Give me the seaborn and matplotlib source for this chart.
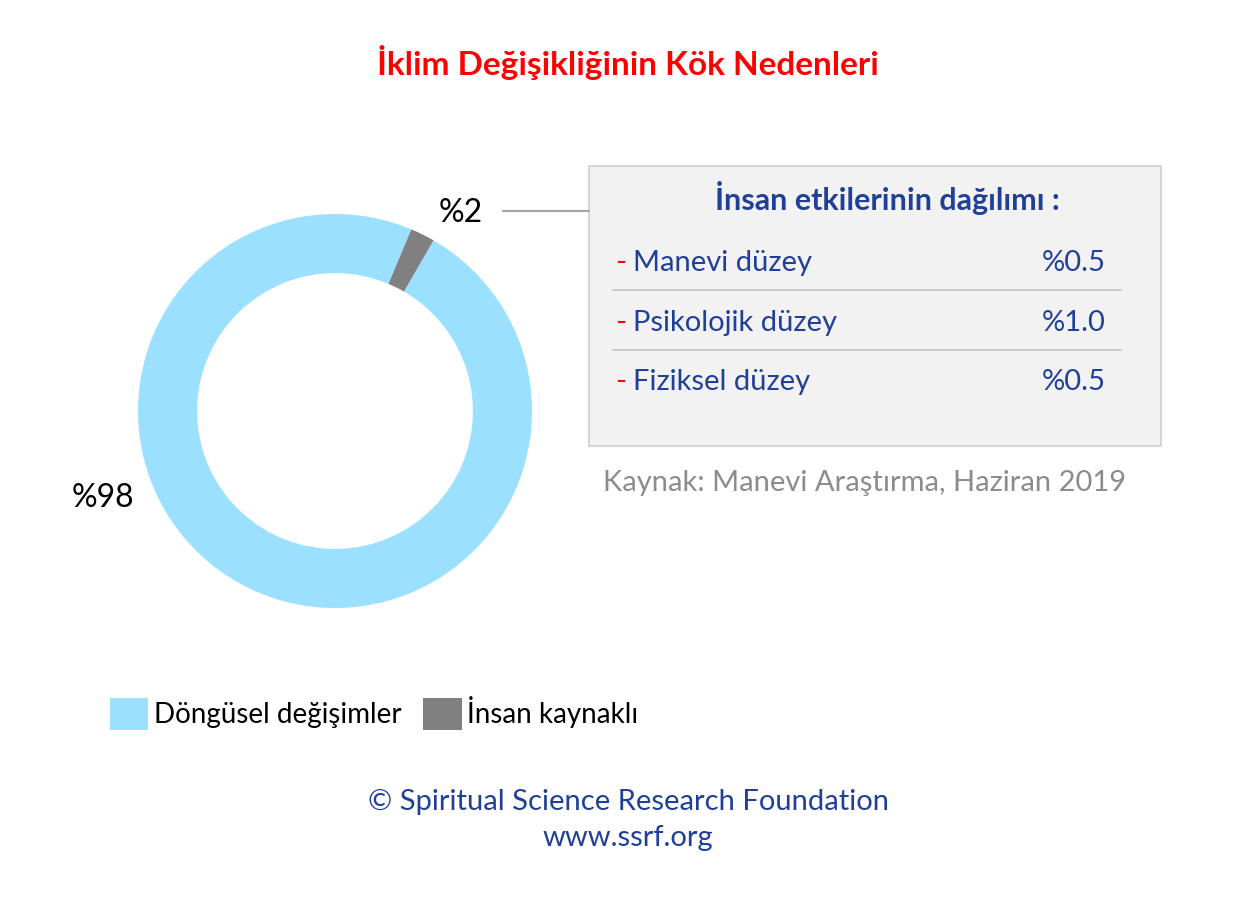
import matplotlib
matplotlib.use("Agg")
import matplotlib.pyplot as plt
import seaborn as sns
from matplotlib.patches import Rectangle
from matplotlib.lines import Line2D

# data
categories = ["Döngüsel değişimler", "İnsan kaynaklı"]
shares = [98, 2]
share_labels = ["%98", "%2"]
breakdown_levels = ["Manevi düzey", "Psikolojik düzey", "Fiziksel düzey"]
breakdown_values = ["%0.5", "%1.0", "%0.5"]

title = "İklim Değişikliğinin Kök Nedenleri"
box_title = "İnsan etkilerinin dağılımı :"
source = "Kaynak: Manevi Araştırma, Haziran 2019"
footer = ["© Spiritual Science Research Foundation", "www.ssrf.org"]

colors = ["#9BE1FF", "#808080"]
blue_txt = "#1F3F99"

sns.set_theme(style="white")
plt.rcParams['font.family'] = ['Lato', 'DejaVu Sans']

W, H = 1256, 897
fig = plt.figure(figsize=(W / 100, H / 100), dpi=100)


def fx(x):
    return x / W


def fy(y):
    return 1 - y / H


# donut
cx, cy, r = 335, 411, 197
ax = fig.add_axes([fx(cx - r), fy(cy + r), 2 * r / W, 2 * r / H])
wedges, _ = ax.pie(shares, colors=colors, startangle=60, counterclock=False,
                   radius=1, wedgeprops=dict(width=0.30, edgecolor='none'))
ax.set_xlim(-1, 1)
ax.set_ylim(-1, 1)
ax.set_aspect('equal')
ax.axis('off')

# slice labels
fig.text(fx(103), fy(498), share_labels[0], fontsize=23, ha='center', va='center', color='black')
fig.text(fx(461), fy(213), share_labels[1], fontsize=23, ha='center', va='center', color='black')
fig.add_artist(Line2D([fx(503), fx(589)], [fy(211), fy(211)], color='#A6A6A6', lw=1.6))

# title
fig.text(0.5, fy(62), title, fontsize=24, fontweight='bold', color='#FF0000', ha='center', va='center')

# breakdown box
fig.add_artist(Rectangle((fx(589), fy(446)), (1161 - 589) / W, (446 - 166) / H,
                         facecolor='#F2F2F2', edgecolor='#CFCFCF', lw=1.2))
fig.text(fx(887), fy(198), box_title, fontsize=22, fontweight='bold', color=blue_txt, ha='center', va='center')
row_y = [263, 323, 382]
for i, (lvl, val) in enumerate(zip(breakdown_levels, breakdown_values)):
    fig.text(fx(615), fy(row_y[i]), "-", fontsize=21, color='#FF0000', ha='left', va='center')
    fig.text(fx(633), fy(row_y[i]), lvl, fontsize=21, color=blue_txt, ha='left', va='center')
    fig.text(fx(1106), fy(row_y[i]), val, fontsize=21, color=blue_txt, ha='right', va='center')
for y in [290, 350]:
    fig.add_artist(Line2D([fx(613), fx(1121)], [fy(y), fy(y)], color='#C4C4C4', lw=1.2))

fig.text(fx(865), fy(483), source, fontsize=21, color='#8C8C8C', ha='center', va='center')

# legend
ax.legend(wedges, categories, loc='center left', bbox_to_anchor=(fx(110), fy(713)),
          bbox_transform=fig.transFigure, ncol=2, frameon=False, fontsize=20,
          labelcolor='black', handlelength=1.37, handleheight=1.37,
          handletextpad=0.2, columnspacing=0.8, borderpad=0, borderaxespad=0)

# footer
fig.text(0.5, fy(802), footer[0], fontsize=21, color=blue_txt, ha='center', va='center')
fig.text(0.5, fy(838), footer[1], fontsize=21, color=blue_txt, ha='center', va='center')

fig.savefig("out.png", dpi=100, facecolor='white')
